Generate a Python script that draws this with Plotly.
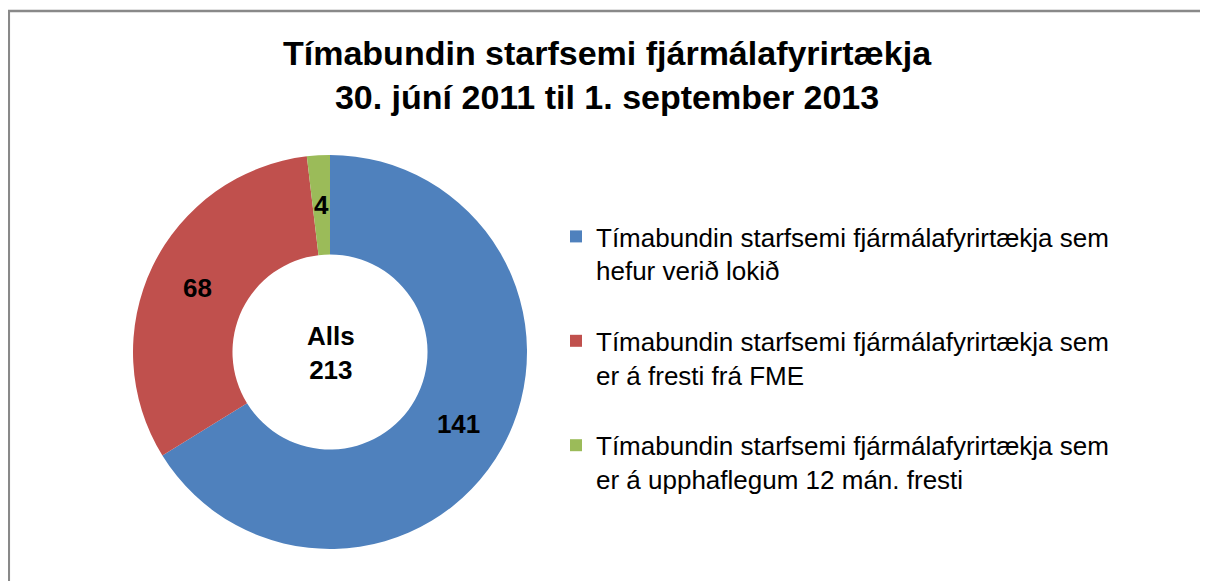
import math
import plotly.graph_objects as go

labels = [
    "Tímabundin starfsemi fjármálafyrirtækja sem<br>hefur verið lokið<br> ",
    "Tímabundin starfsemi fjármálafyrirtækja sem<br>er á fresti frá FME<br> ",
    "Tímabundin starfsemi fjármálafyrirtækja sem<br>er á upphaflegum 12 mán. fresti<br> ",
]
values = [141, 68, 4]
colors = ["#4F81BD", "#C0504D", "#9BBB59"]
total_label = "Alls<br>213"
title_text = "Tímabundin starfsemi fjármálafyrirtækja<br>30. júní 2011 til 1. september 2013"

W, H = 1208, 581
OFF = 8  # browser body margin


def px(x):
    return (x - OFF) / W


def py(y):
    return 1 - (y - OFF) / H


FONT = "Liberation Sans, Arial"
HOLE = 0.495
dom_x = [px(133), px(527)]
dom_y = [py(549), py(155)]

# Slices too narrow for plotly's inside placement get their label placed at
# the middle of the ring, computed from the data.
total = sum(values)
narrow = [v / total < 0.05 for v in values]
texttemplate = ["" if n else "%{value}" for n in narrow]

fig = go.Figure()
fig.add_trace(go.Pie(
    labels=labels,
    values=values,
    marker=dict(colors=colors, line=dict(width=0)),
    hole=HOLE,
    sort=False,
    direction="clockwise",
    rotation=0,
    texttemplate=texttemplate,
    textposition="inside",
    insidetextorientation="horizontal",
    insidetextfont=dict(family=FONT, size=26, color="black", weight="bold"),
    domain=dict(x=dom_x, y=dom_y),
    hoverinfo="label+value",
))

# geometry of the pie in pixels (for labels of narrow slices)
cx_px = (dom_x[0] + dom_x[1]) / 2 * W
cy_px = (dom_y[0] + dom_y[1]) / 2 * H
R = min((dom_x[1] - dom_x[0]) * W, (dom_y[1] - dom_y[0]) * H) / 2
r_mid = R * (1 + HOLE) / 2
cum = 0
for v, n in zip(values, narrow):
    mid = (cum + v / 2) / total * 2 * math.pi
    cum += v
    if n:
        lx = cx_px + r_mid * math.sin(mid)
        ly = cy_px + r_mid * math.cos(mid)
        fig.add_annotation(
            text="<b>" + str(v) + "</b>",
            x=lx / W, y=ly / H, xref="paper", yref="paper",
            xanchor="center", yanchor="middle", showarrow=False,
            font=dict(family=FONT, size=26, color="black"),
        )

fig.add_annotation(
    text="<b>" + total_label + "</b>",
    x=px(331), y=py(353), xref="paper", yref="paper",
    xanchor="center", yanchor="middle",
    showarrow=False,
    font=dict(family=FONT, size=26, color="black"),
)

fig.add_annotation(
    text="<b>" + title_text + "</b>",
    x=px(607), y=py(75), xref="paper", yref="paper",
    xanchor="center", yanchor="middle",
    showarrow=False,
    font=dict(family=FONT, size=34, color="black"),
)

fig.add_shape(
    type="rect", xref="paper", yref="paper",
    x0=0.8 / W, x1=1.02, y0=-0.05, y1=py(11),
    line=dict(color="#898989", width=2.5),
    fillcolor="rgba(0,0,0,0)",
)

fig.update_layout(
    width=W, height=H,
    margin=dict(l=0, r=0, t=0, b=0),
    paper_bgcolor="white",
    plot_bgcolor="white",
    legend=dict(
        x=px(556), y=py(213), xanchor="left", yanchor="top",
        font=dict(family=FONT, size=26, color="black"),
        valign="top",
        bgcolor="rgba(0,0,0,0)",
    ),
    uniformtext=dict(mode="show", minsize=26),
    showlegend=True,
)

fig.write_html("out.html")
